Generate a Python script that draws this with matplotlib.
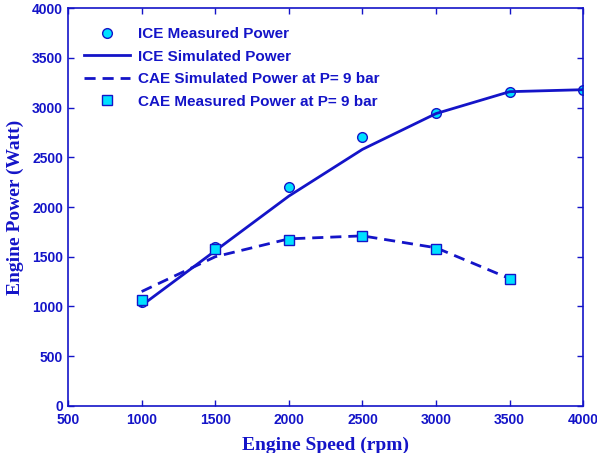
import matplotlib
matplotlib.use("Agg")
import matplotlib.pyplot as plt

speed = [1000, 1500, 2000, 2500, 3000, 3500, 4000]
ice_measured = [1040, 1600, 2200, 2700, 2950, 3160, 3180]
ice_simulated = [1010, 1560, 2110, 2580, 2940, 3160, 3180]
cae_speed = [1000, 1500, 2000, 2500, 3000, 3500]
cae_simulated = [1150, 1500, 1680, 1710, 1590, 1280]
cae_measured = [1060, 1575, 1670, 1710, 1580, 1275]

blue = '#1414c8'
cyan = '#00e0ff'

fig = plt.figure(figsize=(5.97, 4.53), dpi=100)
ax = fig.add_axes([0.114, 0.104, 0.863, 0.878])

ax.plot(speed, ice_measured, linestyle='none', marker='o', ms=7, mfc=cyan, mec=blue, mew=1.0, label='ICE Measured Power')
ax.plot(speed, ice_simulated, '-', color=blue, lw=2, label='ICE Simulated Power')
ax.plot(cae_speed, cae_simulated, '--', color=blue, lw=2, dashes=(4, 2.5), label='CAE Simulated Power at P= 9 bar')
ax.plot(cae_speed, cae_measured, linestyle='none', marker='s', ms=7, mfc=cyan, mec=blue, mew=1.0, label='CAE Measured Power at P= 9 bar')

ax.set_xlim(500, 4000)
ax.set_ylim(0, 4000)
ax.set_xticks(range(500, 4001, 500))
ax.set_yticks(range(0, 4001, 500))
for s in ax.spines.values():
    s.set_color(blue)
    s.set_linewidth(1.2)
ax.tick_params(direction='in', top=True, right=True, colors=blue, length=4, width=1, labelsize=10)
ax.tick_params(axis='x', pad=5)
for lab in ax.get_xticklabels() + ax.get_yticklabels():
    lab.set_fontfamily('Liberation Sans')
    lab.set_fontweight('bold')
    lab.set_color(blue)

ax.set_xlabel('Engine Speed (rpm)', fontfamily='Liberation Serif', fontweight='bold', fontsize=14, color=blue, labelpad=7)
ax.set_ylabel('Engine Power (Watt)', fontfamily='Liberation Serif', fontweight='bold', fontsize=14, color=blue, labelpad=6)

leg = ax.legend(loc='upper left', frameon=False, prop={'family': 'Liberation Sans', 'weight': 'bold', 'size': 11},
                handlelength=3.0, bbox_to_anchor=(0.02, 0.967), borderaxespad=0.0, labelspacing=0.55, handletextpad=0.5)
for t in leg.get_texts():
    t.set_color(blue)

fig.savefig('out.png', dpi=100)
